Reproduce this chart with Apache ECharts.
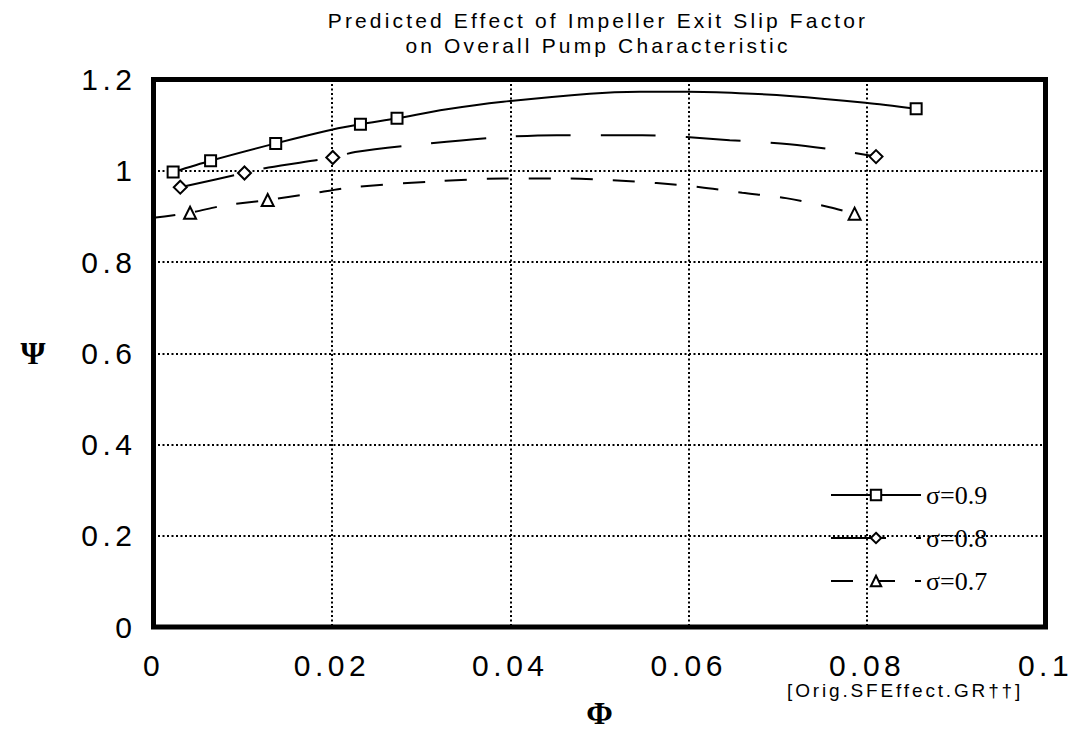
<!DOCTYPE html>
<html>
<head>
<meta charset="utf-8">
<title>Predicted Effect of Impeller Exit Slip Factor</title>
<script src="https://cdn.jsdelivr.net/npm/echarts@6.0.0/dist/echarts.min.js"></script>
<style>
html, body { margin: 0; padding: 0; background: #fff; }
#chart { width: 1075px; height: 734px; }
/* the plotting program spread its sans-serif letters out */
#chart text[style*="Arial"] { letter-spacing: 0.15em; }
</style>
</head>
<body>
<div id="chart"></div>
<script>
// sigma = 0.9 : squares, solid line
var phiMark09 = [0.0022, 0.0064, 0.0137, 0.0232, 0.0273, 0.0855];
var psiMark09 = [0.997, 1.022, 1.060, 1.102, 1.115, 1.136];
var phiCurve09 = [0.0202, 0.0327, 0.0392, 0.0489, 0.0545, 0.0599, 0.0657, 0.0713, 0.0798];
var psiCurve09 = [1.091, 1.134, 1.151, 1.169, 1.173, 1.173, 1.170, 1.164, 1.149];

// sigma = 0.8 : diamonds, long dashes
var phiMark08 = [0.0030, 0.0102, 0.0201, 0.0810];
var psiMark08 = [0.964, 0.995, 1.029, 1.031];
var phiCurve08 = [0.0129, 0.0226, 0.0290, 0.0386, 0.0452, 0.0548, 0.0646, 0.0713, 0.0774];
var psiCurve08 = [1.007, 1.041, 1.056, 1.073, 1.078, 1.078, 1.067, 1.058, 1.043];

// sigma = 0.7 : triangles, short dashes
var phiMark07 = [0.0041, 0.0128, 0.0786];
var psiMark07 = [0.908, 0.936, 0.906];
var phiCurve07 = [0.0, 0.0077, 0.0174, 0.0224, 0.0319, 0.0392, 0.0465, 0.0515, 0.0564, 0.0613, 0.0660, 0.0709, 0.0758];
var psiCurve07 = [0.897, 0.923, 0.949, 0.964, 0.977, 0.983, 0.983, 0.979, 0.973, 0.964, 0.952, 0.940, 0.920];

var sigmaNames = ['σ=0.9', 'σ=0.8', 'σ=0.7'];

var sansFont = 'Liberation Sans, Arial';
var serifFont = 'Liberation Serif';

function pairs(xs, ys) {
    return xs.map(function (x, i) { return [x, ys[i]]; });
}
// the fitted line runs through the markers, so merge both and sort on phi
function curve(markX, markY, curveX, curveY) {
    return pairs(markX, markY).concat(pairs(curveX, curveY))
        .sort(function (a, b) { return a[0] - b[0]; });
}

var markerStyle = { color: '#fff', borderColor: '#000', borderWidth: 2, opacity: 1 };

function lineSeries(name, symbol, dash, data) {
    return {
        name: name,
        type: 'line',
        data: data,
        smooth: 0.3,
        symbol: symbol,
        showSymbol: false,
        itemStyle: markerStyle,
        lineStyle: { color: '#000', width: 2, type: dash },
        silent: true,
        z: 2
    };
}
function markSeries(symbol, size, data) {
    return {
        type: 'scatter',
        data: data,
        symbol: symbol,
        symbolSize: size,
        itemStyle: markerStyle,
        silent: true,
        z: 3
    };
}

var chart = echarts.init(document.getElementById('chart'), null, { renderer: 'svg' });
var gridLine = { color: '#000', width: 2, type: [2, 2.5] };
var tickLabel = { color: '#000', fontSize: 30, fontFamily: sansFont };
var axisTitle = { color: '#000', fontSize: 32, fontWeight: 'bold', fontFamily: serifFont };

chart.setOption({
    animation: false,
    backgroundColor: '#fff',
    title: {
        text: 'Predicted Effect of Impeller Exit Slip Factor\non Overall Pump Characteristic',
        left: 598,
        top: 8,
        padding: 0,
        textAlign: 'center',
        textStyle: { color: '#000', fontSize: 21, fontWeight: 'normal', lineHeight: 25, fontFamily: sansFont }
    },
    legend: {
        data: sigmaNames,
        orient: 'vertical',
        left: 830,
        top: 482,
        itemWidth: 90,
        itemHeight: 13,
        itemGap: 17,
        padding: 0,
        textStyle: { color: '#000', fontSize: 26, lineHeight: 26, fontFamily: serifFont }
    },
    grid: {
        left: 153.5,
        right: 29.5,
        top: 79.5,
        bottom: 102.3,
        show: true,
        borderColor: '#000',
        borderWidth: 5,
        backgroundColor: '#fff'
    },
    xAxis: {
        type: 'value',
        min: 0,
        max: 0.1,
        interval: 0.02,
        name: 'Φ',
        nameLocation: 'middle',
        nameGap: 70,
        nameTextStyle: axisTitle,
        axisLine: { show: false },
        axisTick: { show: false },
        axisLabel: Object.assign({ margin: 23 }, tickLabel),
        splitLine: { show: true, lineStyle: gridLine }
    },
    yAxis: {
        type: 'value',
        min: 0,
        max: 1.2,
        interval: 0.2,
        name: 'Ψ',
        nameLocation: 'middle',
        nameRotate: 0,
        nameGap: 108,
        nameTextStyle: axisTitle,
        axisLine: { show: false },
        axisTick: { show: false },
        axisLabel: Object.assign({ margin: 17 }, tickLabel),
        splitLine: { show: true, lineStyle: gridLine }
    },
    graphic: [{
        type: 'text',
        x: 787,
        y: 690,
        style: {
            text: '[Orig.SFEffect.GR††]',
            fill: '#000',
            fontSize: 19,
            fontFamily: sansFont,
            verticalAlign: 'middle'
        }
    }],
    series: [
        lineSeries(sigmaNames[0], 'rect', 'solid', curve(phiMark09, psiMark09, phiCurve09, psiCurve09)),
        lineSeries(sigmaNames[1], 'diamond', [55, 30], curve(phiMark08, psiMark08, phiCurve08, psiCurve08)),
        lineSeries(sigmaNames[2], 'triangle', [22, 20], curve(phiMark07, psiMark07, phiCurve07, psiCurve07)),
        markSeries('rect', 11, pairs(phiMark09, psiMark09)),
        markSeries('diamond', 13, pairs(phiMark08, psiMark08)),
        markSeries('triangle', 12, pairs(phiMark07, psiMark07))
    ]
});
</script>
</body>
</html>
